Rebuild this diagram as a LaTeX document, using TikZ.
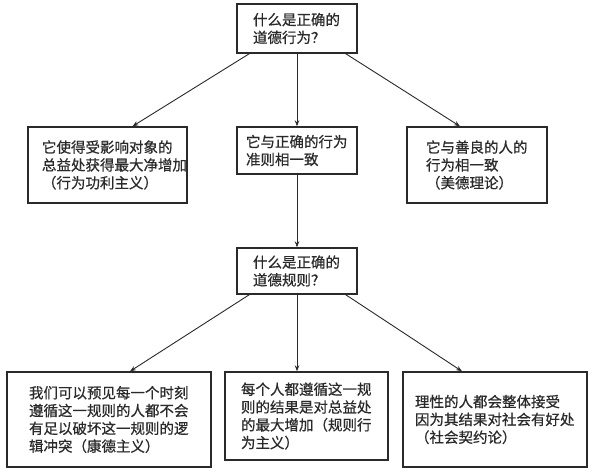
\documentclass[tikz,border=0pt]{standalone}
\usepackage{fontspec}
\setmainfont{Noto Sans CJK SC}[FakeBold=0.6]
\usetikzlibrary{arrows.meta}
\definecolor{ink}{HTML}{2A2A2A}
\begin{document}
\begin{tikzpicture}[x=1pt,y=-1pt,
  box/.style={draw=ink,line width=1.4pt,align=left,inner sep=0pt,text=ink,
    font=\fontsize{14.5}{17.8}\selectfont},
  arr/.style={draw=ink,line width=0.9pt,-{Stealth[length=6pt,width=4.5pt]}}]
\useasboundingbox[fill=white] (0,0) rectangle (594,475);
\node[box,minimum width=120pt,minimum height=49pt,text width=88pt] (q1) at (297,28.5) {什么是正确的\\道德行为？};
\node[box,minimum width=159pt,minimum height=76pt,text width=131pt] (a1) at (107.5,165) {它使得受影响对象的\\总益处获得最大净增加\\（行为功利主义）};
\node[box,minimum width=120pt,minimum height=47pt,text width=102pt] (a2) at (297,150.5) {它与正确的行为\\准则相一致};
\node[box,minimum width=140pt,minimum height=76pt,text width=102pt] (a3) at (477,165) {它与善良的人的\\行为相一致\\（美德理论）};
\node[box,minimum width=120pt,minimum height=46pt,text width=88pt] (q2) at (297,271) {什么是正确的\\道德规则？};
\node[box,minimum width=204pt,minimum height=95pt,text width=160pt] (b1) at (109,419.5) {我们可以预见每一个时刻\\遵循这一规则的人都不会\\有足以破坏这一规则的逻\\辑冲突（康德主义）};
\node[box,minimum width=163pt,minimum height=88pt,text width=131pt] (b2) at (306.5,416) {每个人都遵循这一规\\则的结果是对总益处\\的最大增加（规则行\\为主义）};
\node[box,minimum width=184pt,minimum height=95pt,text width=160pt] (b3) at (495,419.5) {理性的人都会整体接受\\因为其结果对社会有好处\\（社会契约论）};
\draw[arr] ([xshift=13pt]q1.south west) -- ([xshift=25pt]a1.north);
\draw[arr] (q1.south) -- (a2.north);
\draw[arr] ([xshift=-12pt]q1.south east) -- ([xshift=-17pt]a3.north);
\draw[arr] (a2.south) -- (q2.north);
\draw[arr] ([xshift=13pt]q2.south west) -- ([xshift=21pt]b1.north);
\draw[arr] ([xshift=-9.5pt]b2.north |- q2.south) -- ([xshift=-9.5pt]b2.north);
\draw[arr] ([xshift=-12pt]q2.south east) -- ([xshift=-33pt]b3.north);
\end{tikzpicture}
\end{document}
